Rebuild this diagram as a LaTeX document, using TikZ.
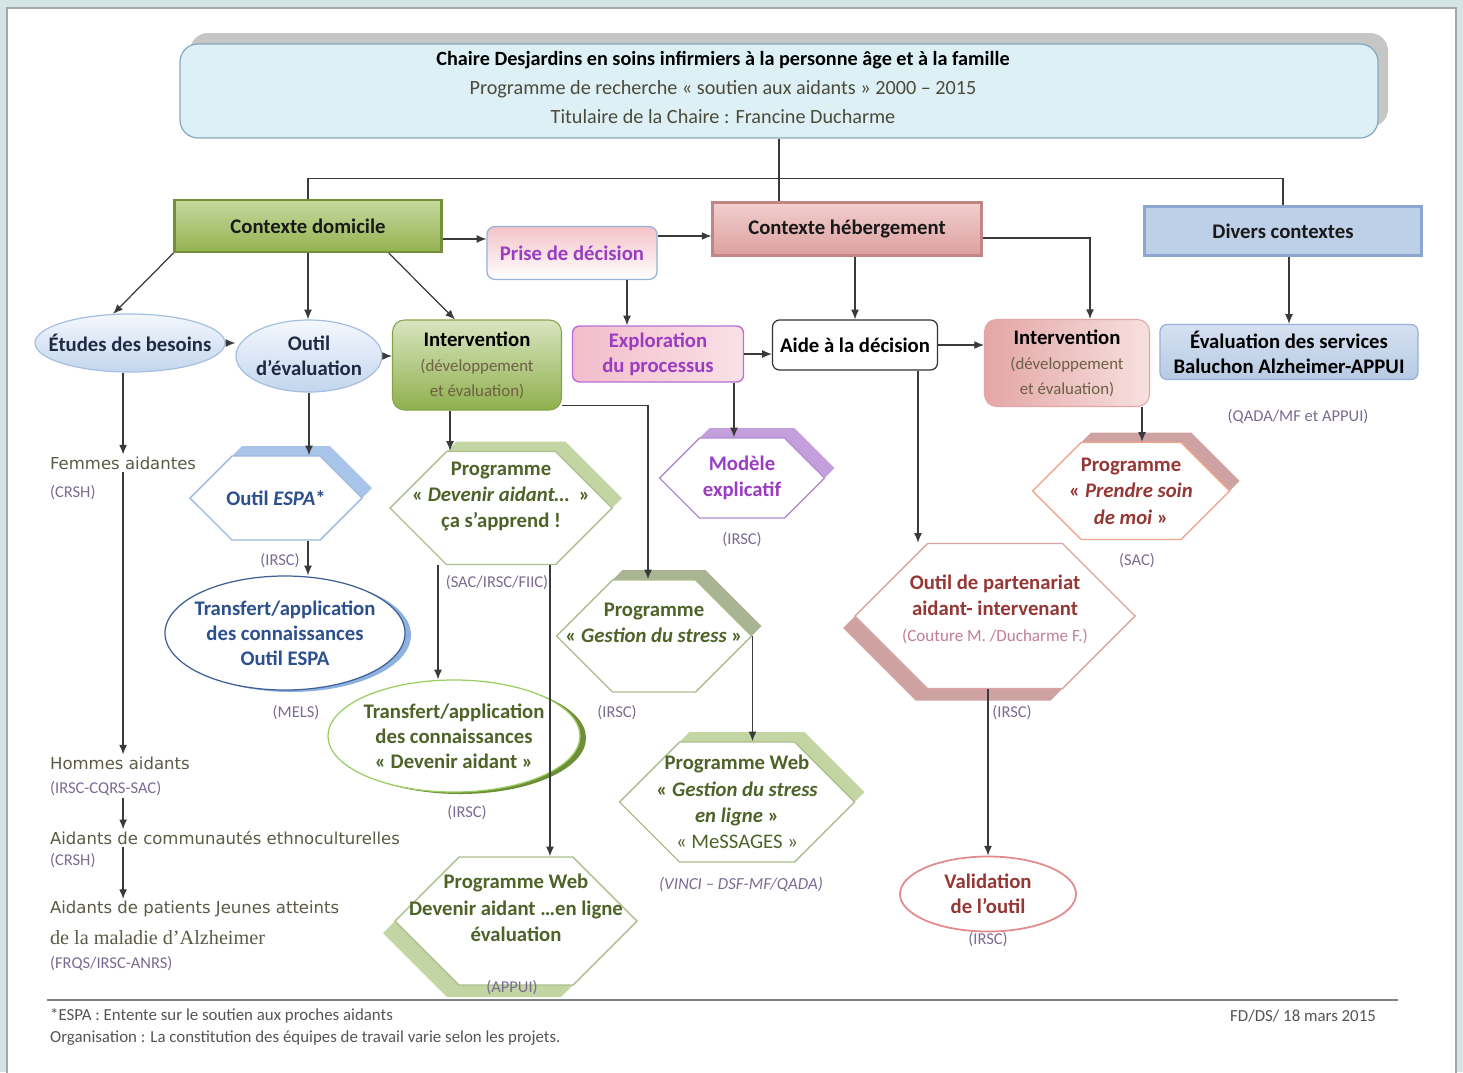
\documentclass[tikz,border=0pt]{standalone}
\usepackage{fontspec}
\setmainfont{Carlito}
\newfontfamily\verdfont{DejaVu Sans}
\newfontfamily\timesfont{Liberation Serif}
\usetikzlibrary{shapes.geometric,shapes.symbols,shadows,arrows.meta,positioning,calc}

%Colours%
%===========================================================
\definecolor{framebg}{HTML}{D4E5E6}
\definecolor{frameedge}{HTML}{A3A8AA}
\definecolor{titlefill}{HTML}{DDF0F6}
\definecolor{titleedge}{HTML}{86A9C2}
\definecolor{titleshade}{HTML}{C6C6C6}
\definecolor{titletext}{HTML}{4B4B3A}
\definecolor{linecol}{HTML}{3A3A3A}
\definecolor{purpletext}{HTML}{9A3DC2}
\definecolor{bluetext}{HTML}{2C4F8E}
\definecolor{navytext}{HTML}{1F2A44}
\definecolor{olivetext}{HTML}{4F6228}
\definecolor{redtext}{HTML}{953735}
\definecolor{pinknote}{HTML}{C27F92}
\definecolor{fundc}{HTML}{7B6B92}
\definecolor{lefttextc}{HTML}{5B5A46}
\definecolor{browntext}{HTML}{6E5F45}
\definecolor{footc}{HTML}{555555}
\definecolor{domtop}{HTML}{C5D99E}
\definecolor{dombot}{HTML}{93B350}
\definecolor{domedge}{HTML}{738F3B}
\definecolor{hebtop}{HTML}{F1CFCE}
\definecolor{hebbot}{HTML}{DCA09F}
\definecolor{hebedge}{HTML}{C28584}
\definecolor{divfill}{HTML}{BDD0E7}
\definecolor{divedge}{HTML}{8CA6CF}
\definecolor{ovaltop}{HTML}{F4F8FD}
\definecolor{ovalbot}{HTML}{C3D6EE}
\definecolor{ovaledge}{HTML}{A7BFDF}
\definecolor{prisetop}{HTML}{F3C3C8}
\definecolor{priseedge}{HTML}{95B3D7}
\definecolor{exploleft}{HTML}{F2BCCB}
\definecolor{exploright}{HTML}{FAE1E7}
\definecolor{exploedge}{HTML}{B86FD6}
\definecolor{inttop}{HTML}{D8E5BF}
\definecolor{intbot}{HTML}{8FB04D}
\definecolor{intedge}{HTML}{86A34A}
\definecolor{intrleft}{HTML}{E3A6A5}
\definecolor{intrright}{HTML}{F7E0DF}
\definecolor{evaltop}{HTML}{D5E1F1}
\definecolor{evalbot}{HTML}{B8CAE3}
\definecolor{evaledge}{HTML}{97B0D5}
\definecolor{espaedge}{HTML}{9DB8E0}
\definecolor{espashade}{HTML}{A8C4E9}
\definecolor{greenedge}{HTML}{ADBE8E}
\definecolor{greenshade}{HTML}{C3D5A2}
\definecolor{oliveshade}{HTML}{A9B592}
\definecolor{purpleedge}{HTML}{B38BD1}
\definecolor{purpleshade}{HTML}{C3A0DC}
\definecolor{roseedge}{HTML}{D9A3A3}
\definecolor{roseshade}{HTML}{CFA2A2}
\definecolor{salmonedge}{HTML}{F2A68C}
\definecolor{trespaedge}{HTML}{3E5F94}
\definecolor{trespashade}{HTML}{8EB2E0}
\definecolor{trdevedge}{HTML}{98CF5E}
\definecolor{trdevshade}{HTML}{6E8F37}
\definecolor{validedge}{HTML}{E28A8D}

\newcommand{\notefont}{\mdseries\fontsize{9.6}{14.2}\selectfont\color{browntext}}
\newcommand{\hx}[1]{\makebox[0pt]{#1}} % line that may run over the shape's slanted sides
\newcommand{\tline}[1]{\makebox[2.24cm][l]{\makebox[0pt]{#1}}} % title line, set left of the box centre

\tikzset{
  boxsize/.style 2 args={minimum width=#1*0.02cm, minimum height=#2*0.02cm},
  labelfont/.style={font=\fontsize{11.8}{14.2}\selectfont\bfseries},
  conn/.style={draw=linecol, line width=0.7pt},
  arr/.style={conn, -{Latex[length=5.5pt,width=4.5pt]}},
  titlebox/.style={draw=titleedge, fill=titlefill, rounded corners=0.36cm, line width=0.7pt, align=center,
    font=\fontsize{11.5}{16.4}\selectfont,
    drop shadow={shadow xshift=0.2cm, shadow yshift=0.22cm, fill=titleshade, opacity=1}},
  ctxbox/.style={draw=#1edge, top color=#1top, bottom color=#1bot, line width=1.2pt, labelfont, text=black!90},
  prisebox/.style={draw=priseedge, top color=prisetop, bottom color=white, rounded corners=0.16cm, line width=0.7pt, labelfont, text=purpletext},
  divbox/.style={draw=divedge, fill=divfill, line width=1.6pt, labelfont, text=black!90},
  intbox/.style={draw=intedge, top color=inttop, bottom color=intbot, rounded corners=0.24cm, line width=0.6pt, align=center, labelfont},
  intrbox/.style={draw=intrleft, left color=intrleft, right color=intrright, rounded corners=0.24cm, line width=0.6pt, align=center, labelfont},
  explobox/.style={draw=exploedge, left color=exploleft, right color=exploright, rounded corners=0.14cm, line width=0.8pt, align=center, labelfont, text=purpletext},
  aidebox/.style={draw=black!80, fill=white, rounded corners=0.14cm, line width=0.7pt, labelfont},
  evalbox/.style={draw=evaledge, top color=evaltop, bottom color=evalbot, rounded corners=0.14cm, line width=0.7pt, align=center, labelfont},
  oval/.style={ellipse, draw=ovaledge, top color=ovaltop, bottom color=ovalbot, line width=0.7pt, inner sep=0pt, align=center, labelfont, text=navytext},
  ring/.style={ellipse, draw, fill=white, line width=0.7pt, inner sep=0pt, align=center, font=\fontsize{11.8}{14.2}\selectfont\bfseries},
  hexa/.style={signal, signal to=east and west, signal pointer angle=90, draw, fill=white, line width=0.8pt, inner sep=0pt, align=center, font=\fontsize{11.8}{15}\selectfont\bfseries},
  shadeur/.style={drop shadow={shadow xshift=0.2cm, shadow yshift=0.2cm, fill=#1, opacity=1}},
  shadebl/.style={drop shadow={shadow xshift=-0.24cm, shadow yshift=-0.24cm, fill=#1, opacity=1}},
  shaderight/.style={drop shadow={shadow xshift=0.12cm, shadow yshift=-0.04cm, fill=#1, opacity=1}},
  fund/.style={inner sep=1pt, font=\fontsize{9.4}{10}\selectfont, text=fundc},
  lefttext/.style={anchor=west, inner sep=1pt, font=\verdfont\fontsize{9.4}{11}\selectfont, text=lefttextc},
  foottext/.style={inner sep=1pt, font=\fontsize{9.6}{11}\selectfont, text=footc},
  footrule/.style={draw=black!50, line width=1.2pt}
}

\begin{document}
\begin{tikzpicture}[x=0.02cm, y=-0.02cm]
  %Frame%
  %===========================================================
  \useasboundingbox (0,0) rectangle (1463,1072);
  \fill[framebg] (0,0) rectangle (1463,1072);
  \filldraw[fill=white, draw=frameedge, line width=0.6pt] (7,8) rectangle (1456,1080);

  %Title%
  %===========================================================
  \node[titlebox, boxsize={1198}{94}] (chaire) at (779,91)
    {\tline{\textbf{Chaire Desjardins en soins infirmiers à la personne âge et à la famille}}\\
     \tline{\textcolor{titletext}{Programme de recherche « soutien aux aidants » 2000 – 2015}}\\
     \tline{\textcolor{titletext}{Titulaire de la Chaire : Francine Ducharme}}\\[-12pt]\mbox{}};

  %Contexts%
  %===========================================================
  \node[ctxbox=dom, boxsize={267}{52}] (dom) at (308,226) {Contexte domicile};
  \node[prisebox, boxsize={170}{53}] (prise) at (572,253) {Prise de décision};
  \node[ctxbox=heb, boxsize={269}{53}] (heb) at (847,229) {Contexte hébergement};
  \node[divbox, boxsize={277}{49}] (divers) at (1283,231) {Divers contextes};

  %Second row%
  %===========================================================
  \node[oval, boxsize={190}{58}] (besoins) at (130,343) {\hx{Études des besoins}};
  \node[oval, boxsize={146}{72}] (evalo) at (309,356) {\hx{Outil}\\\hx{d’évaluation}};
  \node[intbox, boxsize={169}{90}] (intdom) at (477,365) {Intervention\\{\notefont(développement}\\{\notefont et évaluation)}};
  \node[explobox, boxsize={171}{56}] (explo) at (658,354) {Exploration\\du processus};
  \node[aidebox, boxsize={165}{50}] (aide) at (855,345) {Aide à la décision};
  \node[intrbox, boxsize={165}{87}] (intheb) at (1067,363) {Intervention\\{\notefont(développement}\\{\notefont et évaluation)}};
  \node[evalbox, boxsize={258}{55}] (evalserv) at (1289,352) {Évaluation des services\\Baluchon Alzheimer-APPUI};
  \node[fund] (fundqada) at (1298,417) {(QADA/MF et APPUI)};

  %Programmes and tools%
  %===========================================================
  \node[hexa, draw=espaedge, shadeur=espashade, text=bluetext, boxsize={172}{84}] (espa) at (276,498) {\hx{Outil \textit{ESPA}*}};
  \node[hexa, draw=greenedge, shadeur=greenshade, text=olivetext, boxsize={222}{113}] (devenir) at (501,508)
    {\hx{Programme}\\\hx{« \textit{Devenir aidant…} ~»}\\\hx{ça s’apprend !}\\\mbox{}};
  \node[hexa, draw=purpleedge, shadeur=purpleshade, text=purpletext, boxsize={165}{80}] (modele) at (742,478)
    {\hx{Modèle}\\\hx{explicatif}};
  \node[hexa, draw=greenedge, shadeur=oliveshade, text=olivetext, boxsize={195}{112}] (stress) at (654,636)
    {\hx{Programme}\\\hx{« \textit{Gestion du stress} »}\\\mbox{}};
  \node[hexa, draw=greenedge, shadeur=greenshade, text=olivetext, boxsize={235}{120}] (webstress) at (737,802)
    {\hx{Programme Web}\\\hx{« \textit{Gestion du stress}}\\\hx{\textit{en ligne} »}\\\hx{\mdseries « MeSSAGES »}};
  \node[hexa, draw=greenedge, shadebl=greenshade, text=olivetext, boxsize={242}{128}] (webdev) at (516,921)
    {\hx{Programme Web}\\\hx{Devenir aidant …en ligne}\\\hx{évaluation}\\\mbox{}};
  \node[hexa, draw=roseedge, shadebl=roseshade, text=redtext, boxsize={280}{145}] (partenariat) at (995,616)
    {\hx{Outil de partenariat}\\\hx{aidant- intervenant}\\\hx{\mdseries\fontsize{9.7}{14}\selectfont\color{pinknote}(Couture M. /Ducharme F.)}\\[-6pt]\mbox{}};
  \node[hexa, draw=salmonedge, shadeur=roseshade, text=redtext, boxsize={197}{97}] (prendre) at (1131,491)
    {\hx{Programme}\\\hx{« \textit{Prendre soin}}\\\hx{\textit{de moi} »}};

  \node[ring, draw=trespaedge, shaderight=trespashade, text=bluetext, boxsize={240}{114}] (trespa) at (285,633)
    {\hx{Transfert/application}\\\hx{des connaissances}\\\hx{Outil ESPA}};
  \node[ring, draw=trdevedge, shaderight=trdevshade, text=olivetext, boxsize={252}{112}] (trdev) at (454,736)
    {\hx{Transfert/application}\\\hx{des connaissances}\\\hx{« Devenir aidant »}};
  \node[ring, draw=validedge, line width=1pt, text=redtext, boxsize={176}{75}] (valid) at (988,894)
    {\hx{Validation}\\\hx{de l’outil}};

  %Funding%
  %===========================================================
  \node[fund] (fundespa) at (280,561) {(IRSC)};
  \node[fund] (fundmels) at (296,713) {(MELS)};
  \node[fund] (funddev) at (497,583) {(SAC/IRSC/FIIC)};
  \node[fund] (fundtrdev) at (467,813) {(IRSC)};
  \node[fund] (fundappui) at (512,988) {(APPUI)};
  \node[fund] (fundmodele) at (742,540) {(IRSC)};
  \node[fund] (fundstress) at (617,713) {(IRSC)};
  \node[fund, font=\fontsize{9.6}{10}\selectfont\itshape] (fundvinci) at (741,884) {(VINCI – DSF-MF/QADA)};
  \node[fund] (fundpart) at (1012,713) {(IRSC)};
  \node[fund] (fundvalid) at (988,940) {(IRSC)};
  \node[fund] (fundsac) at (1137,561) {(SAC)};

  %Caregivers column%
  %===========================================================
  \node[lefttext] (femmes) at (48,463) {Femmes aidantes};
  \node[fund, anchor=west] (fundfemmes) at (48,493) {(CRSH)};
  \node[lefttext] (hommes) at (48,763) {Hommes aidants};
  \node[fund, anchor=west] (fundhommes) at (48,789) {(IRSC-CQRS-SAC)};
  \node[lefttext] (ethno) at (48,838) {Aidants de communautés ethnoculturelles};
  \node[fund, anchor=west] (fundethno) at (48,861) {(CRSH)};
  \node[lefttext] (jeunes) at (48,909) {Aidants de patients Jeunes atteints};
  \node[lefttext, font=\timesfont\fontsize{11.5}{13}\selectfont] (alzheimer) at (48,938) {de la maladie d’Alzheimer};
  \node[fund, anchor=west] (fundjeunes) at (48,964) {(FRQS/IRSC-ANRS)};

  %Connectors%
  %===========================================================
  \draw[conn] (chaire.south) -- ++(0,40) coordinate (hub);
  \draw[conn] (dom.north) |- (hub) -| (divers.north);
  \draw[conn] (hub) -- (hub |- heb.north);
  \draw[arr] (dom.south west) -- (besoins.120);
  \draw[arr] (dom.south) -- (dom.south |- evalo.north);
  \draw[arr] ($(dom.south)!0.6!(dom.south east)$) -- ($(intdom.north)+(-22,0)$);
  \draw[arr] (dom.east |- 0,239) -- (prise.west |- 0,239);
  \draw[arr] (prise.east |- 0,236) -- (heb.west |- 0,236);
  \draw[arr] (prise.south -| 627,0) -- (explo.north -| 627,0);
  \draw[arr] (besoins.east) -- (besoins.east -| evalo.west);
  \draw[arr] (evalo.east) -- (evalo.east -| intdom.west);
  \draw[arr] (explo.east) -- (explo.east -| aide.west);
  \draw[arr] (aide.east) -- (aide.east -| intheb.west);
  \draw[arr] (heb.south -| aide.north) -- (aide.north);
  \draw[arr] ([yshift=-0.18cm]heb.east) -| ([xshift=0.46cm]intheb.north);
  \draw[arr] (divers.south -| evalserv.north) -- (evalserv.north);

  \draw[arr] (femmes.north |- besoins.south) -- (femmes.north);
  \draw[arr] (femmes.south) -- (femmes.south |- hommes.north);
  \draw[arr] (fundhommes.south -| femmes.south) -- (ethno.north -| femmes.south);
  \draw[arr] (ethno.south -| femmes.south) -- (jeunes.north -| femmes.south);

  \draw[arr] (evalo.south) -- (evalo.south |- espa.north);
  \draw[arr] ($(espa.south)+(32,0)$) coordinate (espaout) -- (espaout |- trespa.north);
  \draw[arr] (intdom.south -| 450,0) -- (devenir.north -| 450,0);
  \draw[arr] (devenir.south -| 438,0) -- (trdev.north -| 438,0);
  \draw[arr] (devenir.south -| 550,0) -- (webdev.north -| 550,0);
  \draw[arr] ([yshift=0.1cm]intdom.south east) -| ([xshift=-0.12cm]stress.north);
  \draw[arr] (stress.east) -- (stress.east |- webstress.north);
  \draw[arr] (explo.south -| 734,0) -- (modele.north -| 734,0);
  \draw[arr] (aide.south -| 918,0) -- (partenariat.north -| 918,0);
  \draw[arr] (partenariat.south -| valid.north) -- (valid.north);
  \draw[arr] (intheb.south -| 1142,0) -- (prendre.north -| 1142,0);

  %Footer%
  %===========================================================
  \draw[footrule] (47,1000) -- (1398,1000);
  \node[foottext, anchor=west] (espanote) at (48,1016) {*ESPA : Entente sur le soutien aux proches aidants};
  \node[foottext, anchor=west] (orga) at (48,1038) {Organisation : La constitution des équipes de travail varie selon les projets.};
  \node[foottext, anchor=east] (datenote) at (1378,1016) {FD/DS/ 18 mars 2015};
\end{tikzpicture}
\end{document}
